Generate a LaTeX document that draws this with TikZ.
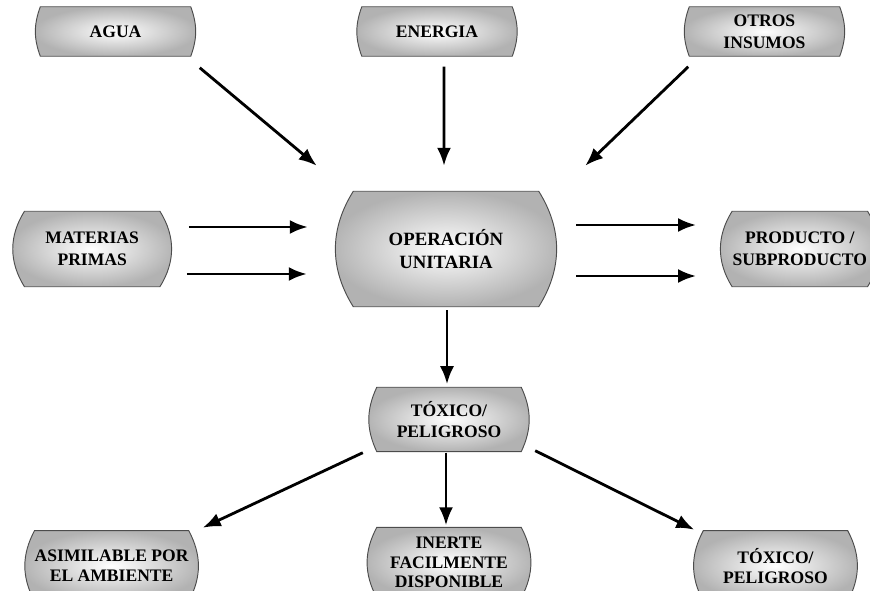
\documentclass[tikz,border=0pt]{standalone}
\usepackage{fontspec}
\setmainfont{Liberation Serif}
\usetikzlibrary{calc}
\usetikzlibrary{positioning}
\usetikzlibrary{arrows.meta}
\usetikzlibrary{backgrounds}

\begin{document}
\begin{tikzpicture} [x=0.03cm, y=0.03cm, >={Latex[length=5.4mm,width=4.2mm]}]
            % Set primary nodes
            \tikzset{
                entity/.style={
                        rectangle,
                        inner sep=0pt,
                        align=center,
                        font=\fontsize{15}{18.5}\selectfont\bfseries
                    }
            }
            \tikzset{
                inputNode/.style={
                        entity,
                        minimum height=1.47cm,
                        minimum width=4.5cm
                    }
            }
            \tikzset{
                sideNode/.style={
                        entity,
                        minimum height=2.25cm,
                        minimum width=4.05cm
                    }
            }
            \tikzset{
                operationNode/.style={
                        entity,
                        font=\fontsize{16}{19}\selectfont\bfseries,
                        minimum height=3.45cm,
                        minimum width=5.55cm
                    }
            }
            \tikzset{
                wasteNode/.style={
                        entity,
                        minimum height=1.92cm,
                        minimum width=4.32cm
                    }
            }
            \tikzset{
                fateNode/.style={
                        entity,
                        font=\fontsize{15}{17.5}\selectfont\bfseries,
                        minimum height=2.1cm,
                        minimum width=4.32cm
                    }
            }
            \tikzset{
                outline/.style={
                        draw=black!70,
                        line width=0.8pt,
                        inner color=white,
                        outer color=black!30
                    }
            }
            % Configure arrows
            \tikzstyle{arrow} = [line width=2.4pt, ->]
            \useasboundingbox (0,0) rectangle (870,591);
            % Placing nodes
            \node[operationNode](operacion) at (446,342){OPERACIÓN\\UNITARIA};
            \node[inputNode, above = 4.05cm of operacion, xshift = -0.27cm](energia){ENERGIA};
            \node[inputNode, left = 5.13cm of energia](agua){AGUA};
            \node[inputNode, right = 5.31cm of energia](otros){OTROS\\INSUMOS};
            \node[sideNode, left = 5.8cm of operacion](materias){MATERIAS\\PRIMAS};
            \node[sideNode, right = 5.8cm of operacion](producto){PRODUCTO /\\SUBPRODUCTO};
            \node[wasteNode, below = 2.415cm of operacion, xshift = 0.09cm](toxico){TÓXICO/\\PELIGROSO};
            \node[fateNode, below = 2.27cm of toxico, font=\fontsize{15}{16.5}\selectfont\bfseries](inerte){INERTE\\FACILMENTE\\DISPONIBLE};
            \node[fateNode, left = 5.64cm of inerte, yshift = -0.1cm](asimilable){ASIMILABLE POR\\EL AMBIENTE};
            \node[fateNode, right = 5.46cm of inerte, yshift = -0.1cm](toxicoFin){TÓXICO/\\PELIGROSO};
            % Box outlines with curved sides
            \begin{scope}[on background layer]
                \foreach \n/\b in {agua/20, energia/20, otros/20, materias/32, operacion/32, producto/32, toxico/25, asimilable/28, inerte/28, toxicoFin/28}
                    \path[outline] (\n.north west) -- (\n.north east) to[bend left=\b] (\n.south east) -- (\n.south west) to[bend left=\b] (\n.north west) -- cycle;
            \end{scope}
            % Draw arrows
            \draw[arrow] ($(agua.south east)+(9,-11.5)$) -- ($(operacion.north west)+(-36.5,25.5)$);
            \draw[arrow] ($(energia.south)+(7,-10.5)$) -- ($(operacion.north)+(-2,25.5)$);
            \draw[arrow] ($(otros.south west)+(-1,-10.5)$) -- ($(operacion.north east)+(46.5,25.5)$);
            \draw[arrow] ($(materias.east)+(29,22)$) -- ($(operacion.west)+(-45.5,22)$);
            \draw[arrow] ($(materias.east)+(27,-25)$) -- ($(operacion.west)+(-46.5,-25)$);
            \draw[arrow] ($(operacion.east)+(37.5,24)$) -- ($(producto.west)+(-36,24)$);
            \draw[arrow] ($(operacion.east)+(37.5,-27)$) -- ($(producto.west)+(-36,-27)$);
            \draw[arrow] ($(operacion.south)+(1,-3.5)$) -- ($(toxico.north)+(-2,3)$);
            \draw[arrow] ($(toxico.south west)+(-14,-1)$) -- ($(asimilable.north east)+(14,3)$);
            \draw[arrow] ($(toxico.south)+(-3,-1)$) -- ($(inerte.north)+(-3,2)$);
            \draw[arrow] ($(toxico.south east)+(14,1)$) -- ($(toxicoFin.north west)+(-9,1)$);
        \end{tikzpicture}
\end{document}
